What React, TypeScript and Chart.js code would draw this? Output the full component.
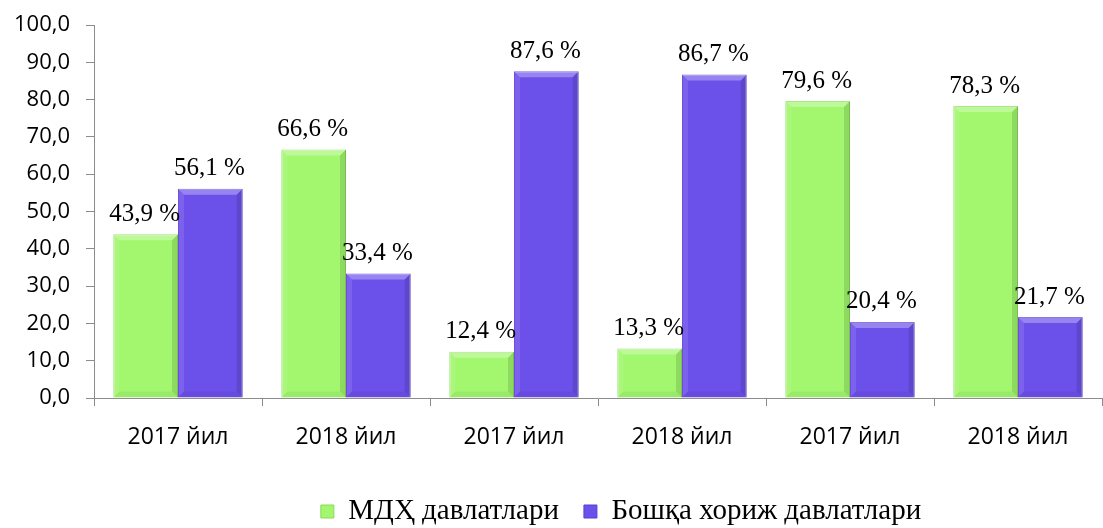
import React, { useEffect, useRef } from "react";
import { Chart, registerables } from "chart.js";

Chart.register(...registerables);

const categories = ["2017 йил", "2018 йил", "2017 йил", "2018 йил", "2017 йил", "2018 йил"];
const seriesNames = ["МДҲ давлатлари", "Бошқа хориж давлатлари"];
const cisValues = [43.9, 66.6, 12.4, 13.3, 79.6, 78.3];
const otherValues = [56.1, 33.4, 87.6, 86.7, 20.4, 21.7];
const seriesColors = ["#A2F76E", "#6C50EA"];

const fmt = (v: number) => v.toFixed(1).replace(".", ",");

const bevelPlugin = {
  id: "bevel",
  afterDatasetsDraw(chart: any) {
    const ctx = chart.ctx;
    chart.data.datasets.forEach((_: any, di: number) => {
      const meta = chart.getDatasetMeta(di);
      meta.data.forEach((el: any) => {
        const { x, y, base, width } = el.getProps(["x", "y", "base", "width"], true);
        const l = x - width / 2;
        const r = x + width / 2;
        const t = Math.min(y, base);
        const b = Math.max(y, base);
        const s = Math.min(6, (b - t) / 2);
        ctx.save();
        ctx.fillStyle = "rgba(255,255,255,0.3)";
        ctx.beginPath();
        ctx.moveTo(l, t);
        ctx.lineTo(r, t);
        ctx.lineTo(r - s, t + s);
        ctx.lineTo(l + s, t + s);
        ctx.closePath();
        ctx.fill();
        ctx.fillStyle = "rgba(255,255,255,0.1)";
        ctx.beginPath();
        ctx.moveTo(l, t);
        ctx.lineTo(l + s, t + s);
        ctx.lineTo(l + s, b - s);
        ctx.lineTo(l, b);
        ctx.closePath();
        ctx.fill();
        ctx.fillStyle = "rgba(0,0,0,0.12)";
        ctx.beginPath();
        ctx.moveTo(r, t);
        ctx.lineTo(r - s, t + s);
        ctx.lineTo(r - s, b - s);
        ctx.lineTo(r, b);
        ctx.closePath();
        ctx.fill();
        ctx.fillStyle = "rgba(0,0,0,0.05)";
        ctx.beginPath();
        ctx.moveTo(l, b);
        ctx.lineTo(l + s, b - s);
        ctx.lineTo(r - s, b - s);
        ctx.lineTo(r, b);
        ctx.closePath();
        ctx.fill();
        ctx.restore();
      });
    });
  },
};

const labelPlugin = {
  id: "valueLabels",
  afterDatasetsDraw(chart: any) {
    const ctx = chart.ctx;
    ctx.save();
    ctx.font = '25px "Liberation Serif", "Times New Roman", serif';
    ctx.fillStyle = "#000";
    ctx.textAlign = "center";
    ctx.textBaseline = "middle";
    chart.data.datasets.forEach((ds: any, di: number) => {
      const meta = chart.getDatasetMeta(di);
      meta.data.forEach((el: any, i: number) => {
        const { x, y } = el.getProps(["x", "y"], true);
        ctx.fillText(fmt(ds.data[i]) + " %", x - 1, y - 20);
      });
    });
    ctx.restore();
  },
};

const LEGEND_SHIFT = 70;
const legendShift = {
  id: "legendShift",
  afterLayout(chart: any) {
    const lg = chart.legend;
    if (lg) {
      lg.left += LEGEND_SHIFT;
      lg.right += LEGEND_SHIFT;
      if (lg.legendHitBoxes) lg.legendHitBoxes.forEach((h: any) => (h.left += LEGEND_SHIFT));
    }
  },
};

export default function App() {
  const ref = useRef<HTMLCanvasElement>(null);
  useEffect(() => {
    document.body.style.margin = "0";
    const canvas = ref.current!;
    const chart = new Chart(canvas, {
      type: "bar",
      data: {
        labels: categories,
        datasets: [
          {
            label: seriesNames[0],
            data: cisValues,
            backgroundColor: seriesColors[0],
            borderColor: "#8BD95C",
            borderWidth: 1,
          },
          {
            label: seriesNames[1],
            data: otherValues,
            backgroundColor: seriesColors[1],
            borderColor: "#5A3FD0",
            borderWidth: 1,
          },
        ],
      },
      options: {
        animation: false,
        responsive: false,
        layout: { padding: { top: 25, right: 1, left: 0, bottom: -8 } },
        datasets: { bar: { categoryPercentage: 0.77, barPercentage: 1 } },
        scales: {
          x: {
            grid: { display: true, drawOnChartArea: false, tickLength: 8, color: "#8C8C8C", offset: true },
            border: { color: "#8C8C8C", width: 1 },
            ticks: {
              color: "#000",
              font: { family: '"Open Sans", sans-serif', size: 23 },
              padding: 18,
              maxRotation: 0,
              autoSkip: false,
            },
            afterFit: (scale: any) => {
              scale.height = 74;
            },
          },
          y: {
            min: 0,
            max: 100,
            grid: { display: true, drawOnChartArea: false, tickLength: 8, color: "#8C8C8C" },
            border: { color: "#8C8C8C", width: 1 },
            ticks: {
              stepSize: 10,
              color: "#000",
              font: { family: '"Open Sans", sans-serif', size: 22 },
              padding: 16,
              callback: (v: any) => fmt(Number(v)),
            },
            afterFit: (scale: any) => {
              scale.width = 94;
              scale.paddingTop = 0;
              scale.paddingBottom = 0;
            },
          },
        },
        plugins: {
          legend: {
            position: "bottom",
            labels: {
              color: "#000",
              font: { family: '"Liberation Serif", "Times New Roman", serif', size: 29 },
              boxWidth: 13,
              boxHeight: 13,
              padding: 25,
            },
          },
          tooltip: { enabled: false },
        },
      },
      plugins: [bevelPlugin, labelPlugin, legendShift],
    } as any);
    return () => chart.destroy();
  }, []);
  return <canvas ref={ref} width={1103} height={528} style={{ display: "block" }} />;
}
